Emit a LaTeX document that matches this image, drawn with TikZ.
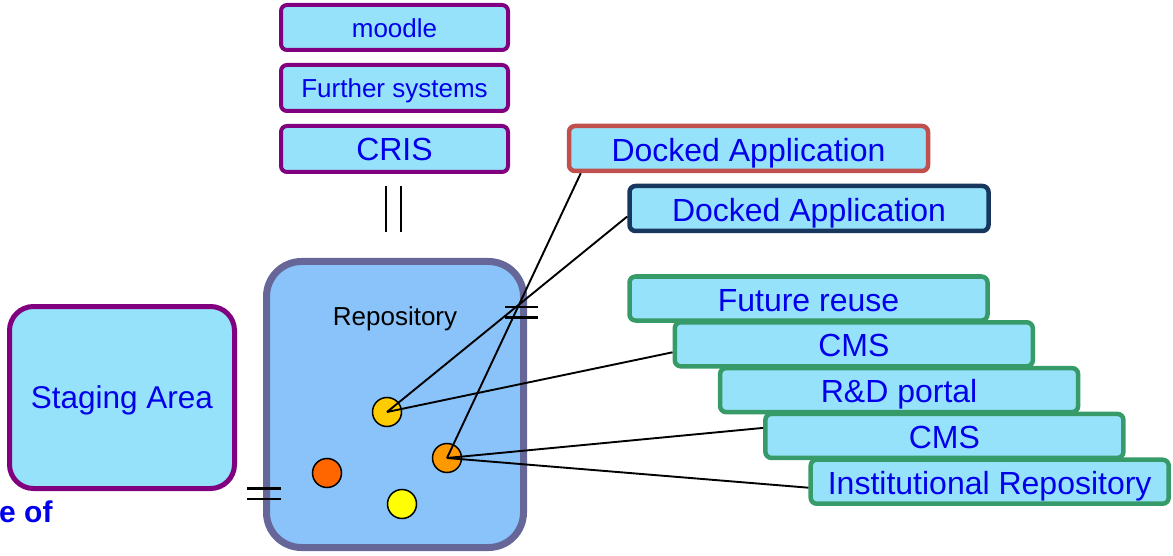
\documentclass[tikz,border=0pt]{standalone}
\usepackage{fontspec}
\setmainfont{Liberation Sans}
\definecolor{cyanf}{RGB}{150,226,250}
\definecolor{repofill}{RGB}{137,195,250}
\definecolor{repoline}{RGB}{102,102,153}
\definecolor{purp}{RGB}{128,0,128}
\definecolor{grn}{RGB}{55,155,105}
\definecolor{redb}{RGB}{192,80,77}
\definecolor{navy}{RGB}{23,55,94}
\definecolor{tblue}{RGB}{0,0,235}
\definecolor{cA}{RGB}{255,204,0}
\definecolor{cB}{RGB}{255,153,0}
\definecolor{cC}{RGB}{255,102,0}
\definecolor{cD}{RGB}{255,255,0}
\newcommand\myfs[1]{\fontsize{#1}{#1}\selectfont}
\begin{document}
\begin{tikzpicture}[x=1pt,y=-1pt,
  box/.style={rectangle, fill=cyanf, inner sep=0pt, text=tblue, text depth=0pt},
  sys/.style={box, draw=purp, line width=4pt, rounded corners=6pt, minimum width=227pt, minimum height=45pt},
  dock/.style={box, line width=4.5pt, rounded corners=6pt, minimum width=359pt, minimum height=45pt, font=\myfs{32}, text height=26pt},
  tgt/.style={box, draw=grn, line width=4.5pt, rounded corners=6pt, minimum width=358pt, minimum height=44pt, font=\myfs{32}, text height=25pt},
  circ/.style={circle, draw=black, line width=1.5pt, minimum size=29pt, inner sep=0pt},
  conn/.style={draw=black, line width=1.9pt},
  ifmark/.style={draw=black, line width=2.1pt}
]
\useasboundingbox (0,0) rectangle (1173,556);

% repository
\node[rectangle, draw=repoline, fill=repofill, line width=7pt, rounded corners=35pt,
      minimum width=257pt, minimum height=286pt, inner sep=0pt] (repo) at (395,404.5) {};
\node[inner sep=0pt, font=\myfs{26}, text height=19.6pt, text depth=0pt] (repolabel) at (395,315.5) {Repository};

% staging area
\node[box, draw=purp, line width=5pt, rounded corners=24pt, minimum width=225pt,
      minimum height=182pt, font=\myfs{31.5}, text height=22.6pt] (stage) at (122,397.5) {Staging Area};
\node[anchor=base west, inner sep=0pt, text=tblue, font=\bfseries\myfs{30}] (eof) at (-1,522.7) {e of};

% top systems
\node[sys, font=\myfs{26}, text height=19.6pt] (moodle) at (394.5,27.5) {moodle};
\node[sys, font=\myfs{26}, text height=19.6pt, minimum height=46pt] (further) at (394.5,88) {Further systems};
\node[sys, font=\myfs{32}, text height=23pt, minimum height=46pt] (cris) at (394.5,149) {CRIS};

% docked applications
\node[dock, draw=redb] (d1) at (748.5,148.5) {Docked Application};
\node[dock, draw=navy] (d2) at (809,208.5) {Docked Application};

% targets
\node[tgt] (fr)   at (808.5,298.5) {Future reuse};
\node[tgt] (cms1) at (853.8,344.3) {CMS};
\node[tgt] (rd)   at (899.1,390.1) {R\&D portal};
\node[tgt] (cms2) at (944.4,435.9) {CMS};
\node[tgt] (ir)   at (989.7,481.7) {Institutional Repository};

% circles
\node[circ, fill=cA] (c1) at (387,412) {};
\node[circ, fill=cB] (c2) at (447,458) {};
\node[circ, fill=cC] (c3) at (327,473) {};
\node[circ, fill=cD] (c4) at (402,504) {};

% connectors
\draw[conn] (c1.center) -- ([yshift=-8pt]d2.west);
\draw[conn] (c1.center) -- ([yshift=-8pt]cms1.west);
\draw[conn] (c2.center) -- ([xshift=14pt]d1.south west);
\draw[conn] (c2.center) -- ([yshift=8pt]cms2.west);
\draw[conn] (c2.center) -- ([yshift=-6pt]ir.west);

% interface marks
\coordinate (v1t) at (386,186); \coordinate (v1b) at (386,232);
\coordinate (v2t) at (401,186); \coordinate (v2b) at (401,232);
\draw[ifmark] (v1t) -- (v1b);
\draw[ifmark] (v2t) -- (v2b);
\coordinate (h1l) at (247,488.5); \coordinate (h1r) at (281,488.5);
\coordinate (h2l) at (247,499); \coordinate (h2r) at (281,499);
\draw[ifmark] (h1l) -- (h1r);
\draw[ifmark] (h2l) -- (h2r);
\coordinate (h3l) at (505,307); \coordinate (h3r) at (538,307);
\coordinate (h4l) at (505,317.5); \coordinate (h4r) at (538,317.5);
\draw[ifmark] (h3l) -- (h3r);
\draw[ifmark] (h4l) -- (h4r);
\end{tikzpicture}
\end{document}
